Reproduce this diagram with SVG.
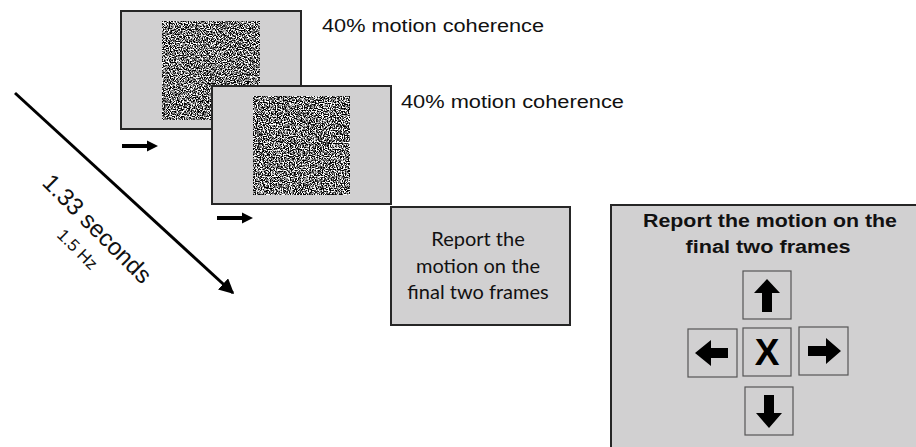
<svg xmlns="http://www.w3.org/2000/svg" width="916" height="447" viewBox="0 0 916 447">
<defs>
<style>
.frame{fill:#d1d0d1;stroke:#262626;stroke-width:2}
.key{fill:#d1d0d1;stroke:#555;stroke-width:1.2}
.lbl{font-family:"Liberation Sans",Arial,sans-serif;font-size:18px;fill:#111}
.rep{font-family:Lato,"Open Sans",sans-serif;font-size:20px;fill:#111;text-anchor:middle}
.title{font-family:"Liberation Sans",Arial,sans-serif;font-weight:bold;font-size:18px;fill:#111;text-anchor:middle}
.diag{font-family:"Liberation Sans",Arial,sans-serif;fill:#111}
.blk{fill:#000}
</style>
<filter id="noise" x="0" y="0" width="1" height="1" color-interpolation-filters="sRGB">
<feTurbulence type="fractalNoise" baseFrequency="0.85" numOctaves="2" seed="7" result="t"/>
<feColorMatrix in="t" type="matrix" values="1 0 0 0 0 1 0 0 0 0 1 0 0 0 0 0 0 0 0 1" result="g"/>
<feComponentTransfer in="g">
<feFuncR type="linear" slope="4.5" intercept="-1.8"/>
<feFuncG type="linear" slope="4.5" intercept="-1.8"/>
<feFuncB type="linear" slope="4.5" intercept="-1.8"/>
</feComponentTransfer>
</filter>
<filter id="noise2" x="0" y="0" width="1" height="1" color-interpolation-filters="sRGB">
<feTurbulence type="fractalNoise" baseFrequency="0.85" numOctaves="2" seed="23" result="t"/>
<feColorMatrix in="t" type="matrix" values="1 0 0 0 0 1 0 0 0 0 1 0 0 0 0 0 0 0 0 1" result="g"/>
<feComponentTransfer in="g">
<feFuncR type="linear" slope="4.5" intercept="-1.8"/>
<feFuncG type="linear" slope="4.5" intercept="-1.8"/>
<feFuncB type="linear" slope="4.5" intercept="-1.8"/>
</feComponentTransfer>
</filter>
<marker id="ah" viewBox="0 0 10 10" refX="9" refY="5" markerWidth="5" markerHeight="5" orient="auto" markerUnits="strokeWidth">
<path d="M0,0 L10,5 L0,10 z" fill="#000"/>
</marker>
</defs>
<rect width="916" height="447" fill="#fff"/>

<g id="frame1">
<rect class="frame" x="121" y="11" width="180" height="118"/>
<rect x="162" y="21" width="98" height="99" fill="#000" filter="url(#noise)"/>
</g>
<g id="label1"><text class="lbl" x="322" y="32" textLength="222" lengthAdjust="spacingAndGlyphs">40% motion coherence</text></g>

<g id="frame2">
<rect class="frame" x="212" y="86" width="179" height="118"/>
<rect x="253" y="96" width="97" height="99" fill="#000" filter="url(#noise2)"/>
</g>
<g id="label2"><text class="lbl" x="401" y="108" textLength="223" lengthAdjust="spacingAndGlyphs">40% motion coherence</text></g>

<g id="report">
<rect class="frame" x="391" y="207" width="179" height="118"/>
<text class="rep" x="478" y="246">Report the</text>
<text class="rep" x="478" y="273">motion on the</text>
<text class="rep" x="478" y="299">final two frames</text>
</g>

<g id="time">
<line x1="15" y1="93" x2="233" y2="293" stroke="#000" stroke-width="3" marker-end="url(#ah)"/>
<text class="diag" font-size="24" transform="translate(41,184) rotate(45)">1.33 seconds</text>
<text class="diag" font-size="17" transform="translate(56,236) rotate(45)">1.5 Hz</text>
</g>

<g id="connectors">
<path d="M122,146 H148" stroke="#000" stroke-width="4"/>
<path class="blk" d="M147,140.5 L158,146 L147,151.5 z"/>
<path d="M217,218 H243" stroke="#000" stroke-width="4"/>
<path class="blk" d="M242,212.5 L253,218 L242,223.5 z"/>
</g>

<g id="panel">
<rect class="frame" x="611" y="205" width="320" height="260"/>
<text class="title" x="770" y="227" textLength="254" lengthAdjust="spacingAndGlyphs">Report the motion on the</text>
<text class="title" x="768" y="253" textLength="165" lengthAdjust="spacingAndGlyphs">final two frames</text>
</g>

<g id="key-up">
<rect class="key" x="743" y="271" width="48" height="48"/>
<path class="blk" d="M767,279 L780,293 L772,293 L772,312 L762,312 L762,293 L754,293 z"/>
</g>
<g id="key-left">
<rect class="key" x="688" y="329" width="49" height="48"/>
<path class="blk" d="M695,353 L711,340 L711,348 L728,348 L728,358 L711,358 L711,366 z"/>
</g>
<g id="key-x">
<rect class="key" x="743" y="328" width="48" height="48"/>
<text x="767" y="365" font-family="'Liberation Sans',Arial,sans-serif" font-weight="bold" font-size="37" text-anchor="middle" fill="#000">X</text>
</g>
<g id="key-right">
<rect class="key" x="799" y="327" width="49" height="48"/>
<path class="blk" d="M841,351 L826,338 L826,346 L808,346 L808,356 L826,356 L826,364 z"/>
</g>
<g id="key-down">
<rect class="key" x="745" y="387" width="48" height="48"/>
<path class="blk" d="M769,428 L782,413 L774,413 L774,395 L764,395 L764,413 L756,413 z"/>
</g>
</svg>
